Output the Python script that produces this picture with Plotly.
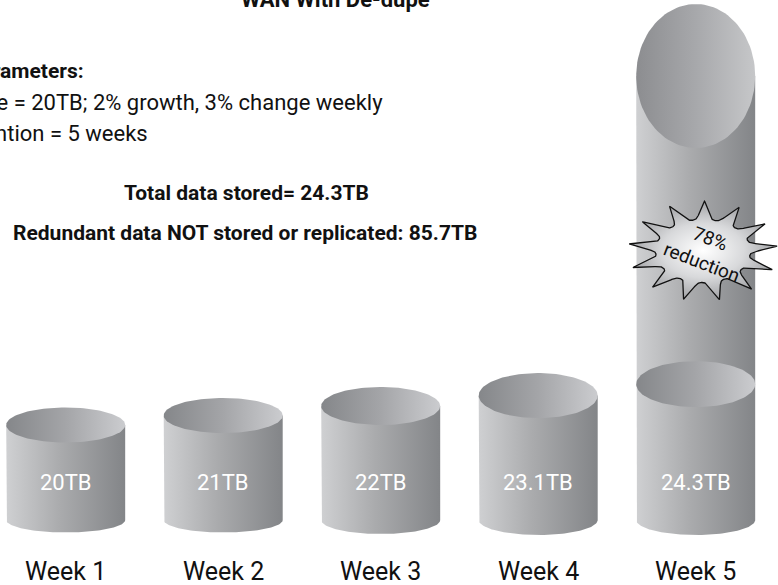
import numpy as np
import plotly.graph_objects as go

# ---- data -------------------------------------------------------------
weeks = ["Week 1", "Week 2", "Week 3", "Week 4", "Week 5"]
stored_tb = [20, 21, 22, 23.1, 24.3]
redundant_tb = 85.7
param_lines = [
    "Full backup size = 20TB; 2% growth, 3% change weekly",
    "Retention = 5 weeks",
]
title_text = "WAN With De-dupe"

# ---- canvas / axis geometry ------------------------------------------
W, H = 778, 585
X_PX_PER_WEEK, X_ZERO_PX = 157.5, -91.8      # x pixel = X_ZERO_PX + week * X_PX_PER_WEEK
BASE_TB, BASE_PX, Y_PX_PER_TB = 10.0, 520.0, 9.5

x_range = [(0 - X_ZERO_PX) / X_PX_PER_WEEK, (W - X_ZERO_PX) / X_PX_PER_WEEK]
y_range = [BASE_TB - (H - BASE_PX) / Y_PX_PER_TB, BASE_TB + BASE_PX / Y_PX_PER_TB]


def xd(px):            # pixel column -> x data
    return (px - X_ZERO_PX) / X_PX_PER_WEEK


def yd(py):            # pixel row -> y data (TB)
    return BASE_TB + (BASE_PX - py) / Y_PX_PER_TB


def pxp(px):           # pixel -> paper
    return px / W


def pyp(py):
    return 1 - py / H


FONT = "Roboto, Liberation Sans, sans-serif"
SIDE_SCALE = [[0, "#cfd0d2"], [0.45, "#aaabad"], [1, "#838588"]]
TOP_SCALE = [[0, "#85878a"], [0.5, "#a4a5a8"], [1, "#cbcccf"]]

RX_PX = 59.5
TOP_RY_PX = [17.5, 17.5, 19, 22.5, 23]
BOT_RY_PX = [12.5, 12.5, 14, 15, 15]

fig = go.Figure()


def ellipse(cx, cy, rx, ry, n=120):
    t = np.linspace(0, 2 * np.pi, n)
    return cx + rx * np.cos(t), cy + ry * np.sin(t)


def side(cx, ytop, ybot, rx, ry_bot, n=80):
    t = np.linspace(np.pi, 0, n)
    xs = np.concatenate([[cx - rx], cx + rx * np.cos(t), [cx + rx, cx - rx]])
    ys = np.concatenate([[ytop], ybot - ry_bot * np.sin(t), [ytop, ytop]])
    return xs, ys


def add_fill(xs, ys, scale, kind="horizontal", line=None):
    fig.add_trace(go.Scatter(
        x=xs, y=ys, mode="lines", fill="toself",
        fillgradient=dict(type=kind, colorscale=scale),
        line=line or dict(width=0, color="rgba(0,0,0,0)"),
        hoverinfo="skip", showlegend=False,
    ))


rx = RX_PX / X_PX_PER_WEEK
for i, v in enumerate(stored_tb):
    cx = i + 1
    ry_top = TOP_RY_PX[i] / Y_PX_PER_TB
    ry_bot = BOT_RY_PX[i] / Y_PX_PER_TB
    last = i == len(stored_tb) - 1
    # the last week carries the tall pipe of un-deduplicated data behind it
    body_top = yd(76) if last else v
    sx, sy = side(cx, body_top, BASE_TB, rx, ry_bot)
    add_fill(sx, sy, SIDE_SCALE)
    if last:
        ex, ey = ellipse(cx, yd(76), rx, 72 / Y_PX_PER_TB)
        add_fill(ex, ey, [[0, "#8c8d90"], [0.5, "#a7a8ab"], [1, "#c6c7c9"]])
    ex, ey = ellipse(cx, v, rx, ry_top)
    add_fill(ex, ey, TOP_SCALE)

# starburst callout on the pipe
n_spikes = 13
cxp, cyp, rxo, ryo = 703, 251, 75, 50
th = np.linspace(0, 2 * np.pi, 900)
phase = n_spikes * (th + 0.1) / 2
f = (1 - np.abs(np.sin(phase))) ** 1.4
r = 0.63 + 0.37 * f
bx = xd(cxp + rxo * r * np.cos(th))
by = yd(cyp + ryo * r * np.sin(th))
add_fill(bx, by, [[0, "#ffffff"], [0.55, "#d8d9db"], [1, "#a2a3a6"]],
         kind="radial", line=dict(width=1.3, color="#111111"))

reduction_pct = round(100 * redundant_tb / (redundant_tb + stored_tb[-1]))

ann = []
# value labels and week captions
for i, (w, v) in enumerate(zip(weeks, stored_tb)):
    ann.append(dict(x=i + 1, y=yd(482), xref="x", yref="y", text=f"{v:g}TB",
                    font=dict(family=FONT, size=22, color="white")))
    ann.append(dict(x=i + 1, y=yd(571), xref="x", yref="y", text=w,
                    font=dict(family=FONT, size=25, color="#111111")))

ann += [
    dict(x=pxp(335), y=pyp(-1), text=title_text,
         font=dict(family=FONT, size=22, color="#111111", weight="bold")),
    dict(x=pxp(86), y=pyp(71), text="Parameters:", xanchor="right",
         font=dict(family=FONT, size=21, color="#111111", weight="bold")),
    dict(x=pxp(385), y=pyp(102), text=param_lines[0], xanchor="right",
         font=dict(family=FONT, size=22, color="#111111")),
    dict(x=pxp(150), y=pyp(134), text=param_lines[1], xanchor="right",
         font=dict(family=FONT, size=22, color="#111111")),
    dict(x=pxp(247), y=pyp(193), text=f"Total data stored= {stored_tb[-1]:g}TB",
         font=dict(family=FONT, size=21, color="#111111", weight="bold")),
    dict(x=pxp(245), y=pyp(233),
         text=f"Redundant data NOT stored or replicated: {redundant_tb:g}TB",
         font=dict(family=FONT, size=21, color="#111111", weight="bold")),
    dict(x=pxp(710), y=pyp(238), text=f"{reduction_pct}%", textangle=21,
         font=dict(family=FONT, size=19, color="#111111")),
    dict(x=pxp(702), y=pyp(262), text="reduction", textangle=21,
         font=dict(family=FONT, size=19, color="#111111")),
]
for a in ann:
    a.setdefault("xref", "paper")
    a.setdefault("yref", "paper")
    a.setdefault("xanchor", "center")
    a["yanchor"] = "middle"
    a["showarrow"] = False

fig.update_layout(
    width=W, height=H, margin=dict(l=0, r=0, t=0, b=0),
    paper_bgcolor="white", plot_bgcolor="white",
    xaxis=dict(range=x_range, visible=False, fixedrange=True),
    yaxis=dict(range=y_range, visible=False, fixedrange=True),
    annotations=ann, showlegend=False,
)

fig.write_html("out.html")
